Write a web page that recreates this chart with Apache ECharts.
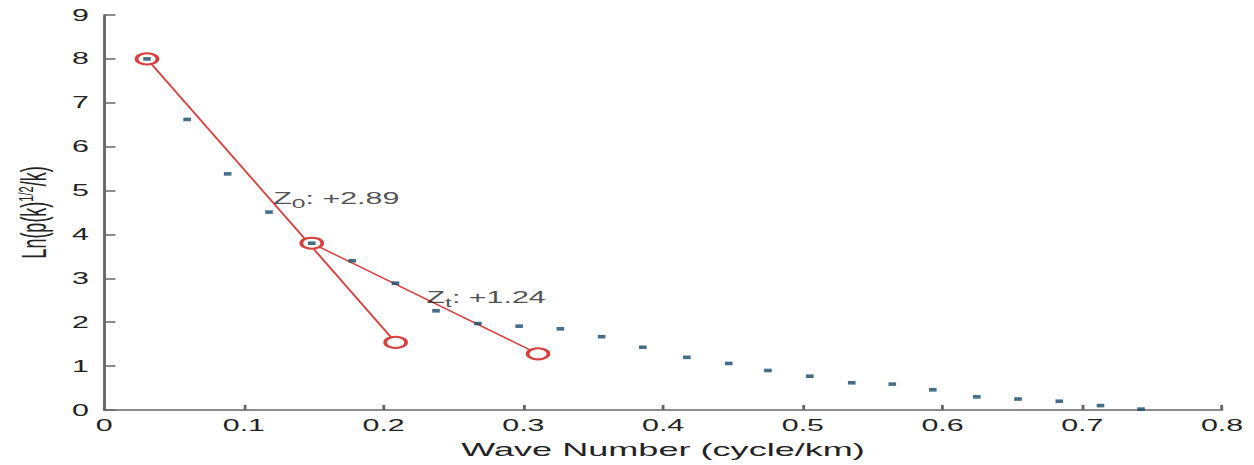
<!DOCTYPE html>
<html>
<head>
<meta charset="utf-8">
<title>Wave number spectrum</title>
<script src="https://cdn.jsdelivr.net/npm/echarts@6/dist/echarts.min.js"></script>
<style>
  html, body { margin: 0; padding: 0; background: #ffffff; overflow: hidden; }
  #chart {
    width: 660px;
    height: 465px;
    transform: scaleX(1.9);
    transform-origin: 0 0;
  }
</style>
</head>
<body>
<div id="chart"></div>
<script>
// Radially averaged spectrum: wave number (cycle/km) vs Ln(p(k)^1/2 / k)
const waveNumber = [0.0307, 0.0594, 0.0884, 0.1180, 0.1486, 0.1775, 0.2085, 0.2375, 0.2675, 0.2970,
                    0.3265, 0.3560, 0.3855, 0.4170, 0.4470, 0.4750, 0.5050, 0.5350, 0.5640, 0.5930,
                    0.6245, 0.6540, 0.6835, 0.7130, 0.7420];
const lnSpectrum = [8.00, 6.62, 5.38, 4.51, 3.80, 3.40, 2.89, 2.26, 1.97, 1.91,
                    1.85, 1.67, 1.43, 1.20, 1.06, 0.90, 0.77, 0.62, 0.59, 0.46,
                    0.30, 0.25, 0.20, 0.10, 0.02];

// Fitted segments: deep source (Zo) and shallow source (Zt)
const deepFitX = [0.0307, 0.2086];
const deepFitY = [8.00, 1.54];
const shallowFitX = [0.1486, 0.3105];
const shallowFitY = [3.80, 1.28];

// Depth annotations
const depthLabelX = [0.121, 0.2307];
const depthLabelY = [4.82, 2.56];
const depthSymbols = ['0', 't'];
const depthValues = ['+2.89', '+1.24'];

const xTicks = { min: 0, max: 0.8, interval: 0.1 };
const yTicks = { min: 0, max: 9, interval: 1 };

const pairs = (xs, ys) => xs.map((x, i) => [x, ys[i]]);

const chart = echarts.init(document.getElementById('chart'), null, { renderer: 'svg' });

const axisFont = 'Liberation Sans, Arial, Helvetica, sans-serif';
const textColor = '#232323';
const axisLineStyle = { color: '#666666', width: 1.5 };
const fitColor = '#d8403f';
const fitStyle = { color: fitColor, width: 1.2 };

chart.setOption({
  backgroundColor: '#ffffff',
  animation: false,
  grid: { left: 53.7, right: 16.8, top: 15, bottom: 55, containLabel: false },
  xAxis: {
    type: 'value',
    min: xTicks.min, max: xTicks.max, interval: xTicks.interval,
    name: 'Wave Number (cycle/km)',
    nameLocation: 'middle',
    nameGap: 30,
    nameTextStyle: { fontFamily: axisFont, fontSize: 19, color: textColor },
    axisLine: { show: true, lineStyle: axisLineStyle },
    axisTick: { show: true, inside: true, length: 5, lineStyle: axisLineStyle },
    axisLabel: { fontFamily: axisFont, fontSize: 16, color: textColor, margin: 7 },
    splitLine: { show: false }
  },
  yAxis: {
    type: 'value',
    min: yTicks.min, max: yTicks.max, interval: yTicks.interval,
    name: '{a|Ln(p(k)}{s|1/2}{a|/k)}',
    nameLocation: 'middle',
    nameGap: 25,
    nameRotate: 90,
    nameTextStyle: {
      fontFamily: axisFont, fontSize: 18, color: textColor,
      rich: {
        a: { fontFamily: axisFont, fontSize: 18, color: textColor },
        s: { fontFamily: axisFont, fontSize: 11, color: textColor, padding: [0, 0, 9, 0] }
      }
    },
    axisLine: { show: true, lineStyle: axisLineStyle },
    axisTick: { show: true, inside: true, length: 6, lineStyle: axisLineStyle },
    axisLabel: { fontFamily: axisFont, fontSize: 16, color: textColor, margin: 8 },
    splitLine: { show: false }
  },
  series: [
    {
      name: 'deep fit',
      type: 'line',
      data: pairs(deepFitX, deepFitY),
      symbol: 'emptyCircle',
      symbolSize: 11,
      showSymbol: true,
      lineStyle: fitStyle,
      itemStyle: { color: fitColor, borderColor: fitColor, borderWidth: 0.8 },
      z: 2
    },
    {
      name: 'shallow fit',
      type: 'line',
      data: pairs(shallowFitX, shallowFitY),
      symbol: 'emptyCircle',
      symbolSize: 11,
      showSymbol: true,
      lineStyle: fitStyle,
      itemStyle: { color: fitColor, borderColor: fitColor, borderWidth: 0.8 },
      z: 2
    },
    {
      name: 'spectrum',
      type: 'scatter',
      data: pairs(waveNumber, lnSpectrum),
      symbol: 'rect',
      symbolSize: [4, 3.6],
      itemStyle: { color: '#16486a' },
      z: 3
    },
    {
      name: 'depth labels',
      type: 'scatter',
      data: pairs(depthLabelX, depthLabelY),
      symbolSize: 0,
      silent: true,
      label: {
        show: true,
        position: 'right',
        distance: 0,
        formatter: (p) => '{m|Z}{b|' + depthSymbols[p.dataIndex] + '}{m|: ' + depthValues[p.dataIndex] + '}',
        rich: {
          m: { fontFamily: axisFont, fontSize: 16, color: textColor },
          b: { fontFamily: axisFont, fontSize: 13, color: textColor, padding: [9, 0, 0, 0] }
        }
      },
      z: 4
    }
  ]
});
</script>
</body>
</html>
